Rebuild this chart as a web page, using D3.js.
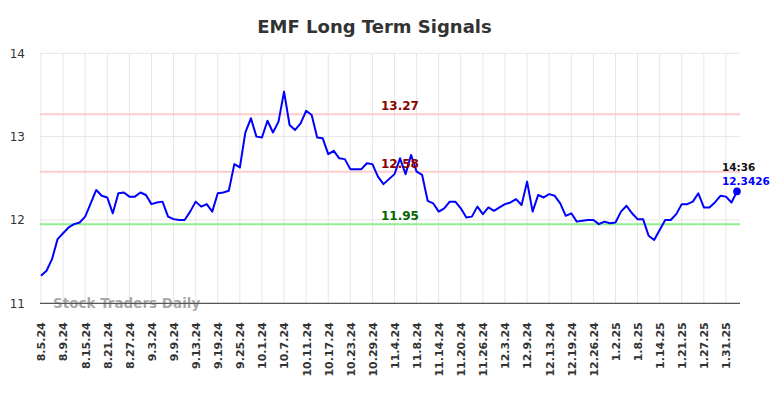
<!DOCTYPE html>
<html>
<head>
<meta charset="utf-8">
<script src="https://cdn.jsdelivr.net/npm/d3@7"></script>
<style>
  html, body { margin: 0; padding: 0; background: #fff; }
  svg { display: block; font-family: "DejaVu Sans", sans-serif; }
</style>
</head>
<body>
<svg id="chart" width="784" height="398"></svg>
<script>
const chartTitle = "EMF Long Term Signals";
const tickLabels = ["8.5.24","8.9.24","8.15.24","8.21.24","8.27.24","9.3.24","9.9.24","9.13.24","9.19.24","9.25.24",
  "10.1.24","10.7.24","10.11.24","10.17.24","10.23.24","10.29.24","11.4.24","11.8.24","11.14.24","11.20.24",
  "11.26.24","12.3.24","12.9.24","12.13.24","12.19.24","12.26.24","1.2.25","1.8.25","1.14.25","1.21.25","1.27.25","1.31.25"];
const tickEvery = 4;
const prices = [
  11.33,11.39,11.53,11.77,11.84,11.91,11.95,11.97,12.04,12.20,
  12.36,12.29,12.27,12.08,12.32,12.33,12.28,12.28,12.33,12.30,
  12.19,12.21,12.22,12.04,12.01,12.00,12.00,12.10,12.22,12.16,
  12.19,12.10,12.32,12.33,12.35,12.67,12.63,13.05,13.22,13.00,
  12.99,13.19,13.05,13.18,13.54,13.14,13.08,13.16,13.31,13.26,
  12.99,12.98,12.79,12.83,12.74,12.73,12.61,12.61,12.61,12.68,
  12.67,12.52,12.43,12.49,12.55,12.74,12.55,12.78,12.58,12.54,
  12.23,12.20,12.10,12.14,12.22,12.22,12.14,12.03,12.04,12.16,
  12.07,12.15,12.11,12.15,12.19,12.21,12.25,12.18,12.46,12.10,
  12.30,12.27,12.31,12.29,12.20,12.05,12.08,11.98,11.99,12.00,
  12.00,11.95,11.98,11.96,11.97,12.10,12.17,12.08,12.01,12.01,
  11.81,11.76,11.88,12.00,12.00,12.07,12.19,12.19,12.22,12.32,
  12.15,12.15,12.21,12.29,12.28,12.21,12.3426
];
const levelValues = [13.27, 12.58, 11.95];
const levelLabels = ["13.27", "12.58", "11.95"];
const levelKinds = ["resist", "resist", "support"];
const yTicks = [11, 12, 13, 14];
const lastTime = "14:36";
const lastLabel = "12.3426";
const watermark = "Stock Traders Daily";

const svg = d3.select("#chart");
const x = d3.scaleLinear().domain([0, prices.length - 1]).range([41, 737]);
const y = d3.scaleLinear().domain([11, 14]).range([303.3, 53.3]);
const plotLeft = 40, plotRight = 740;

// title
svg.append("text").attr("x", 374.5).attr("y", 33)
  .attr("text-anchor", "middle").attr("font-size", 18).attr("font-weight", "bold")
  .attr("fill", "#333").text(chartTitle);

// grid
const tickIdx = tickLabels.map((d, i) => i * tickEvery);
svg.append("g").selectAll("line").data(tickIdx).join("line")
  .attr("x1", d => x(d)).attr("x2", d => x(d))
  .attr("y1", y(14)).attr("y2", y(11))
  .attr("stroke", "#e6e6e6").attr("stroke-width", 1);
svg.append("g").selectAll("line").data(yTicks).join("line")
  .attr("x1", plotLeft).attr("x2", plotRight)
  .attr("y1", d => y(d)).attr("y2", d => y(d))
  .attr("stroke", "#e6e6e6").attr("stroke-width", 1);

// y labels
svg.append("g").selectAll("text").data(yTicks).join("text")
  .attr("x", 25).attr("y", d => y(d) + 4.5)
  .attr("text-anchor", "end").attr("font-size", 12).attr("fill", "#333")
  .text(d => d);

// level lines
svg.append("g").selectAll("line").data(levelValues).join("line")
  .attr("x1", plotLeft).attr("x2", plotRight)
  .attr("y1", d => y(d)).attr("y2", d => y(d))
  .attr("stroke", (d, i) => levelKinds[i] === "support" ? "#90ee90" : "#ffcccc")
  .attr("stroke-width", 2);

// watermark
svg.append("text").attr("x", 53).attr("y", 307.5)
  .attr("font-size", 13.5).attr("font-weight", "bold")
  .attr("fill", "#999").attr("fill-opacity", 0.85).text(watermark);

// bottom axis
const xAxis = d3.axisBottom(x).tickValues(tickIdx)
  .tickFormat((d, i) => tickLabels[i]).tickSize(0).tickPadding(0);
const gx = svg.append("g").attr("transform", `translate(0,${y(11)})`).call(xAxis);
gx.select(".domain").remove();
gx.append("line").attr("x1", plotLeft).attr("x2", plotRight).attr("y1", 0).attr("y2", 0)
  .attr("stroke", "#555").attr("stroke-width", 1.2);
gx.selectAll(".tick text")
  .attr("transform", "rotate(-90)")
  .attr("x", -19).attr("y", 0).attr("dy", "0.35em")
  .attr("text-anchor", "end")
  .attr("font-family", "DejaVu Sans, sans-serif")
  .attr("font-size", 11).attr("font-weight", "bold").attr("fill", "#333");

// price line
const line = d3.line().x((d, i) => x(i)).y(d => y(d));
svg.append("path").datum(prices).attr("d", line)
  .attr("fill", "none").attr("stroke", "blue").attr("stroke-width", 2)
  .attr("stroke-linejoin", "round");

// level labels
svg.append("g").selectAll("text").data(levelValues).join("text")
  .attr("x", 381).attr("y", d => y(d) - 4)
  .attr("font-size", 12).attr("font-weight", "bold")
  .attr("fill", (d, i) => levelKinds[i] === "support" ? "#006400" : "#8b0000")
  .text((d, i) => levelLabels[i]);

// last point
const li = prices.length - 1;
svg.append("circle").attr("cx", x(li)).attr("cy", y(prices[li])).attr("r", 3.8).attr("fill", "blue");
svg.append("text").attr("x", x(li) - 15).attr("y", y(prices[li]) - 20.5)
  .attr("font-size", 10.5).attr("font-weight", "bold").attr("fill", "#111").text(lastTime);
svg.append("text").attr("x", x(li) - 15).attr("y", y(prices[li]) - 6.5)
  .attr("font-size", 10.5).attr("font-weight", "bold").attr("fill", "blue").text(lastLabel);
</script>
</body>
</html>
